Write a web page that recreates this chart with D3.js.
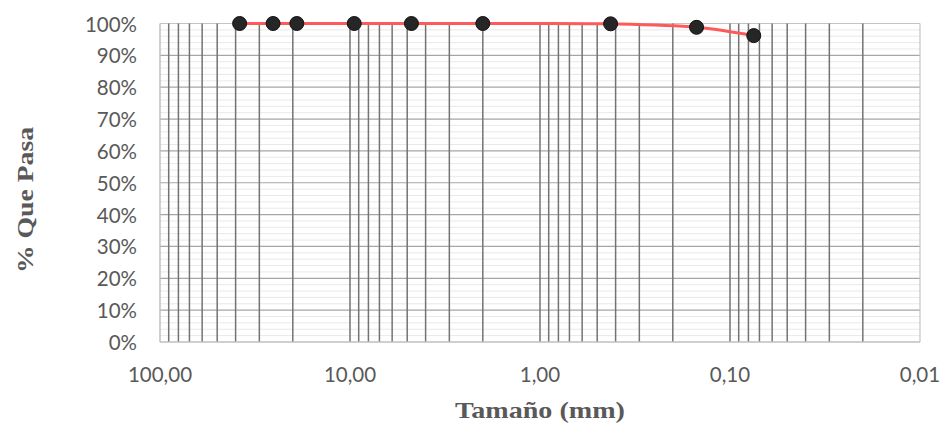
<!DOCTYPE html>
<html>
<head>
<meta charset="utf-8">
<script src="https://cdn.jsdelivr.net/npm/d3@7"></script>
<style>
  html, body { margin: 0; padding: 0; background: #fff; }
  svg { display: block; }
</style>
</head>
<body>
<div id="chart"></div>
<script>
  // Granulometry data: sieve size (mm) vs % passing
  const sizes = [38.1, 25.4, 19.05, 9.5, 4.75, 2.0, 0.425, 0.15, 0.075];
  const passing = [100, 100, 100, 100, 100, 100, 99.9, 98.8, 96.2];
  const xTicks = [100, 10, 1, 0.1, 0.01];
  const xTickLabels = ["100,00", "10,00", "1,00", "0,10", "0,01"];
  const yTicks = [0, 10, 20, 30, 40, 50, 60, 70, 80, 90, 100];

  const W = 943, H = 426;
  const m = { left: 160, right: 23, top: 23.5, bottom: 84 };

  const svg = d3.select("#chart").append("svg")
    .attr("width", W).attr("height", H);

  const x = d3.scaleLog().domain([100, 0.01]).range([m.left, W - m.right]);
  const y = d3.scaleLinear().domain([0, 100]).range([H - m.bottom, m.top]);

  const g = svg.append("g");

  // minor horizontal gridlines every 2%
  const minorY = d3.range(0, 101, 2).filter(v => v % 10 !== 0);
  g.selectAll("line.minor-y").data(minorY).enter().append("line")
    .attr("x1", x(100)).attr("x2", x(0.01))
    .attr("y1", d => y(d)).attr("y2", d => y(d))
    .attr("stroke", "#e9e9e9").attr("stroke-width", 1);

  // major horizontal gridlines every 10%
  g.selectAll("line.major-y").data(yTicks.filter(v => v > 0)).enter().append("line")
    .attr("x1", x(100)).attr("x2", x(0.01))
    .attr("y1", d => y(d)).attr("y2", d => y(d))
    .attr("stroke", d => d === 100 ? "#c4c4c4" : "#a6a6a6").attr("stroke-width", 1.2);

  // vertical log gridlines (1..9 in each decade)
  const vLines = [];
  [10, 1, 0.1, 0.01].forEach(base => {
    for (let k = 1; k <= 9; k++) {
      const v = base * k;
      if (v > 0.01 * 1.0001 && v < 100 * 0.9999) vLines.push(v);
    }
  });
  g.selectAll("line.grid-x").data(vLines).enter().append("line")
    .attr("x1", d => x(d)).attr("x2", d => x(d))
    .attr("y1", y(100)).attr("y2", y(0))
    .attr("stroke", "#737373").attr("stroke-width", 1.5);

  // right border (0.01)
  g.append("line")
    .attr("x1", x(0.01)).attr("x2", x(0.01))
    .attr("y1", y(100)).attr("y2", y(0))
    .attr("stroke", "#c4c4c4").attr("stroke-width", 1.2);

  // axis lines
  g.append("line")
    .attr("x1", x(100)).attr("x2", x(100))
    .attr("y1", y(100)).attr("y2", y(0))
    .attr("stroke", "#bfbfbf").attr("stroke-width", 1.5);
  g.append("line")
    .attr("x1", x(100)).attr("x2", x(0.01))
    .attr("y1", y(0)).attr("y2", y(0))
    .attr("stroke", "#bfbfbf").attr("stroke-width", 1.5);

  // y tick labels
  g.selectAll("text.ytick").data(yTicks).enter().append("text")
    .attr("x", 137).attr("y", d => y(d) + 8)
    .attr("text-anchor", "end")
    .attr("fill", "#595959")
    .attr("font-family", "Lato, 'Open Sans', sans-serif")
    .attr("font-size", "20.5px")
    .text(d => d + "%");

  // x tick labels
  g.selectAll("text.xtick").data(xTicks).enter().append("text")
    .attr("x", d => x(d)).attr("y", 381.5)
    .attr("text-anchor", "middle")
    .attr("fill", "#595959")
    .attr("font-family", "Lato, 'Open Sans', sans-serif")
    .attr("font-size", "20.5px")
    .text((d, i) => xTickLabels[i]);

  // axis titles
  svg.append("text")
    .attr("x", 540).attr("y", 418)
    .attr("text-anchor", "middle")
    .attr("fill", "#595959")
    .attr("font-family", "'Liberation Serif', 'Times New Roman', serif")
    .attr("font-weight", "bold")
    .attr("font-size", "23px")
    .attr("textLength", 170)
    .attr("lengthAdjust", "spacingAndGlyphs")
    .text("Tamaño (mm)");

  svg.append("text")
    .attr("transform", "translate(33,200) rotate(-90)")
    .attr("text-anchor", "middle")
    .attr("fill", "#595959")
    .attr("font-family", "'Liberation Serif', 'Times New Roman', serif")
    .attr("font-weight", "bold")
    .attr("font-size", "23px")
    .attr("textLength", 146)
    .attr("lengthAdjust", "spacingAndGlyphs")
    .text("% Que Pasa");

  // smoothed line
  const pts = sizes.map((s, i) => [s, passing[i]]);
  const line = d3.line()
    .x(d => x(d[0])).y(d => y(d[1]))
    .curve(d3.curveCatmullRom.alpha(0.5));
  g.append("path")
    .datum(pts)
    .attr("d", line)
    .attr("fill", "none")
    .attr("stroke", "#ff5a5a")
    .attr("stroke-width", 3);

  // markers
  g.selectAll("circle.pt").data(pts).enter().append("circle")
    .attr("cx", d => x(d[0])).attr("cy", d => y(d[1]))
    .attr("r", 7)
    .attr("fill", "#262626")
    .attr("stroke", "#111")
    .attr("stroke-width", 1);
</script>
</body>
</html>
